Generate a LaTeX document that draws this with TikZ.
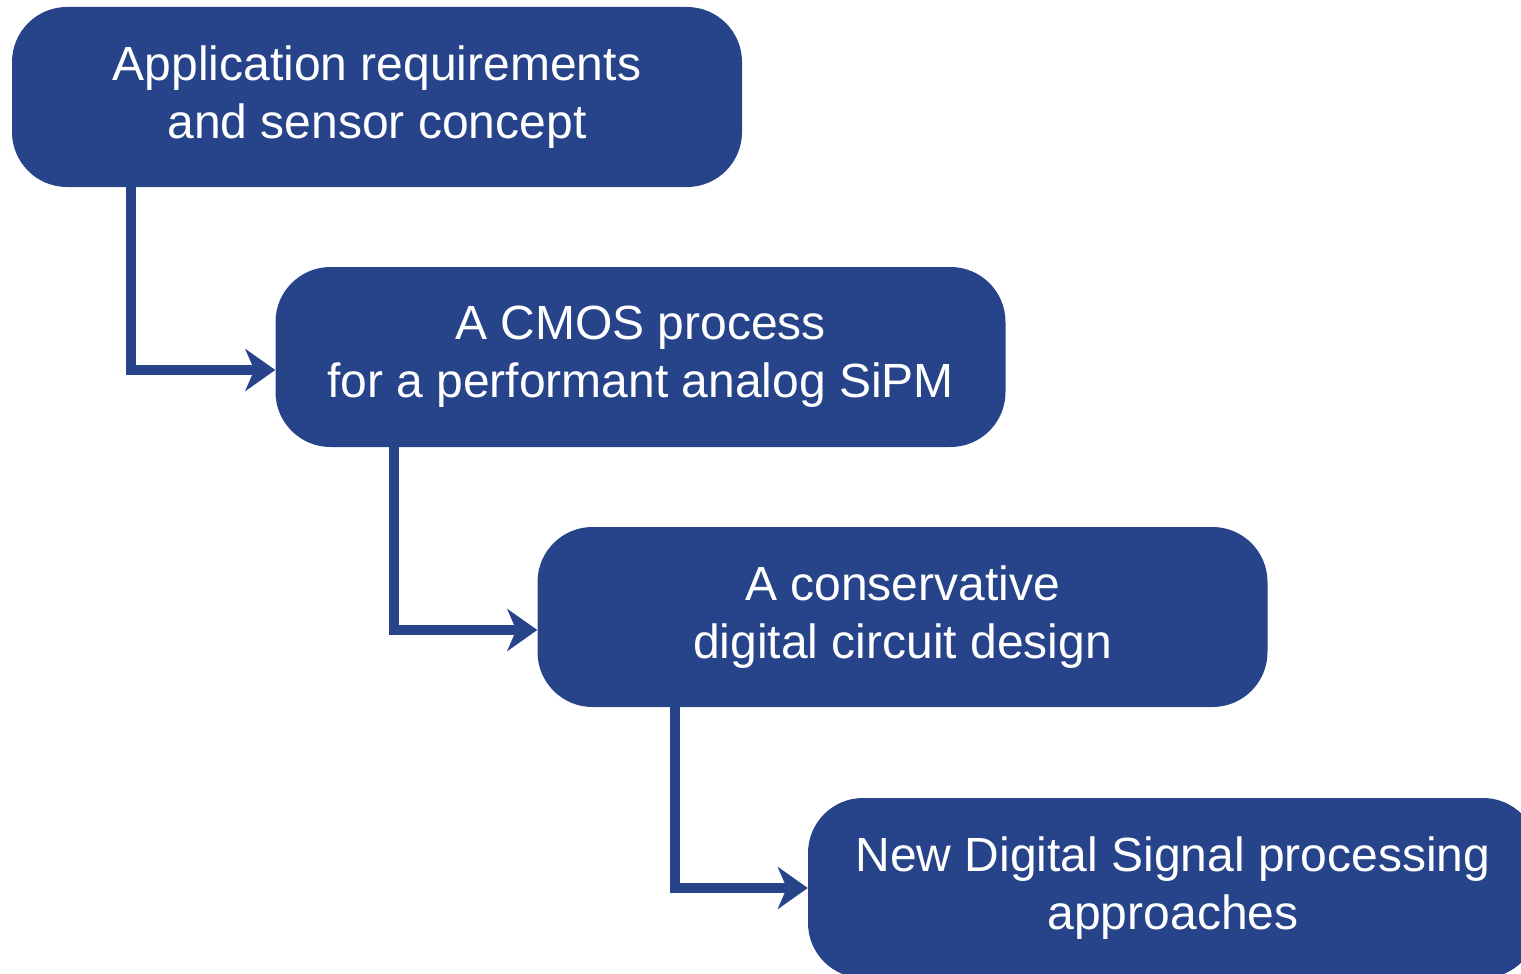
\documentclass[tikz,border=0pt]{standalone}
\usepackage{fontspec}
\setmainfont{Liberation Sans}
\usetikzlibrary{arrows.meta,calc}
\definecolor{boxblue}{RGB}{39,68,138}
\begin{document}
\begin{tikzpicture}[x=1pt,y=-1pt,
  stagebox/.style={fill=boxblue,draw=none,rounded corners=55pt,minimum width=730pt,minimum height=180pt,
    text=white,align=center,font=\fontsize{48}{58}\selectfont,inner sep=0pt},
  flow/.style={draw=boxblue,line width=10pt,-{Stealth[length=30pt,width=42pt,inset=9pt]}}]
\useasboundingbox (0,0) rectangle (1521,974);
\node[stagebox] (b1) at (377,97) {Application requirements\\and sensor concept};
\node[stagebox] (b2) at (640.5,357) {A CMOS process\\for a performant analog SiPM};
\node[stagebox] (b3) at (902.5,617) {A conservative\\digital circuit design};
\node[stagebox] (b4) at (1173,888) {New Digital Signal processing\\approaches};
\draw[flow] ($(b1.south west)+(119,-2)$) |- ([yshift=-13pt]b2.west);
\draw[flow] ($(b2.south west)+(119,-2)$) |- ([yshift=-13pt]b3.west);
\draw[flow] ($(b3.south west)+(138,-2)$) |- (b4.west);
\end{tikzpicture}
\end{document}
